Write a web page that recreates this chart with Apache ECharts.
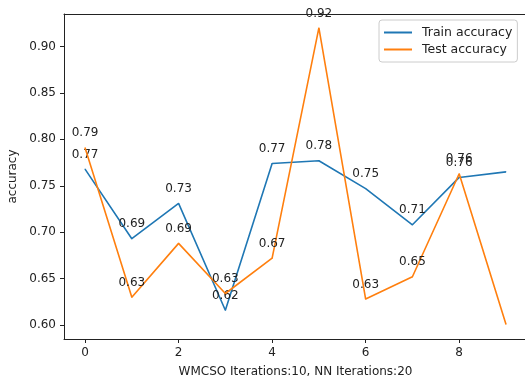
<!DOCTYPE html>
<html>
<head>
<meta charset="utf-8">
<script src="https://cdn.jsdelivr.net/npm/echarts@6/dist/echarts.min.js"></script>
<style>html,body{margin:0;padding:0;background:#fff;}#c{width:525px;height:378px;}</style>
</head>
<body>
<div id="c"></div>
<script>
var iterations = [0, 1, 2, 3, 4, 5, 6, 7, 8, 9];
var trainAccuracy = [0.768, 0.693, 0.731, 0.616, 0.774, 0.777, 0.747, 0.708, 0.759, 0.765];
var testAccuracy = [0.791, 0.630, 0.688, 0.634, 0.672, 0.920, 0.628, 0.652, 0.763, 0.601];
var xTicks = [0, 2, 4, 6, 8];
var yTicks = [0.60, 0.65, 0.70, 0.75, 0.80, 0.85, 0.90];
var labeledCount = 9;

var FONT = 'DejaVu Sans';
function pairs(vals) { return iterations.map(function (x, i) { return [x, vals[i]]; }); }
function lbl(p) { return p.dataIndex < labeledCount ? p.value[1].toFixed(2) : ''; }

var chart = echarts.init(document.getElementById('c'), null, {renderer: 'canvas'});
chart.setOption({
  animation: false,
  backgroundColor: '#fff',
  textStyle: {fontFamily: FONT},
  grid: {left: 64, width: 463, top: 14, bottom: 39, outerBoundsMode: 'none', containLabel: false, show: false},
  legend: {
    left: 379, top: 20, orient: 'vertical',
    itemWidth: 28, itemHeight: 2, itemGap: 4, icon: 'rect',
    padding: [6, 5, 6, 5],
    borderColor: '#ccc', borderWidth: 1, borderRadius: 3, backgroundColor: 'rgba(255,255,255,0.8)',
    textStyle: {fontFamily: FONT, fontSize: 12.5, color: '#222', padding: [0, 0, 0, 5]},
    data: ['Train accuracy', 'Test accuracy']
  },
  xAxis: [{
    type: 'value', min: -0.45, max: 9.45,
    name: 'WMCSO Iterations:10, NN Iterations:20', nameLocation: 'middle', nameGap: 27,
    nameTextStyle: {fontFamily: FONT, fontSize: 12, color: '#222'},
    axisLine: {show: true, onZero: false, lineStyle: {color: '#222', width: 1}},
    axisTick: {show: true, length: 4, inside: false, customValues: xTicks, lineStyle: {color: '#222'}},
    axisLabel: {customValues: xTicks, fontFamily: FONT, fontSize: 12, color: '#222', margin: 8},
    splitLine: {show: false}
  }, {
    type: 'value', position: 'top', min: -0.45, max: 9.45,
    axisLine: {show: true, onZero: false, lineStyle: {color: '#222', width: 1}},
    axisTick: {show: false}, axisLabel: {show: false}, splitLine: {show: false}
  }],
  yAxis: {
    type: 'value', min: 0.585, max: 0.935,
    name: 'accuracy', nameLocation: 'middle', nameGap: 41, nameRotate: 90,
    nameTextStyle: {fontFamily: FONT, fontSize: 12, color: '#222'},
    axisLine: {show: true, onZero: false, lineStyle: {color: '#222', width: 1}},
    axisTick: {show: true, length: 4, customValues: yTicks, lineStyle: {color: '#222'}},
    axisLabel: {customValues: yTicks, fontFamily: FONT, fontSize: 12, color: '#222', margin: 8,
      formatter: function (v) { return v.toFixed(2); }},
    splitLine: {show: false}
  },
  series: [
    {name: 'Train accuracy', type: 'line', data: pairs(trainAccuracy), symbol: 'circle', symbolSize: 1, showSymbol: true, showAllSymbol: true,
      itemStyle: {color: '#1f77b4'}, color: '#1f77b4', lineStyle: {width: 1.6, color: '#1f77b4'}, z: 2,
      label: {show: true, position: 'top', distance: 8, formatter: lbl, fontFamily: FONT, fontSize: 12, color: '#222'}},
    {name: 'Test accuracy', type: 'line', data: pairs(testAccuracy), symbol: 'circle', symbolSize: 1, showSymbol: true, showAllSymbol: true,
      itemStyle: {color: '#ff7f0e'}, color: '#ff7f0e', lineStyle: {width: 1.6, color: '#ff7f0e'}, z: 3,
      label: {show: true, position: 'top', distance: 8, formatter: lbl, fontFamily: FONT, fontSize: 12, color: '#222'}}
  ]
});
</script>
</body>
</html>
